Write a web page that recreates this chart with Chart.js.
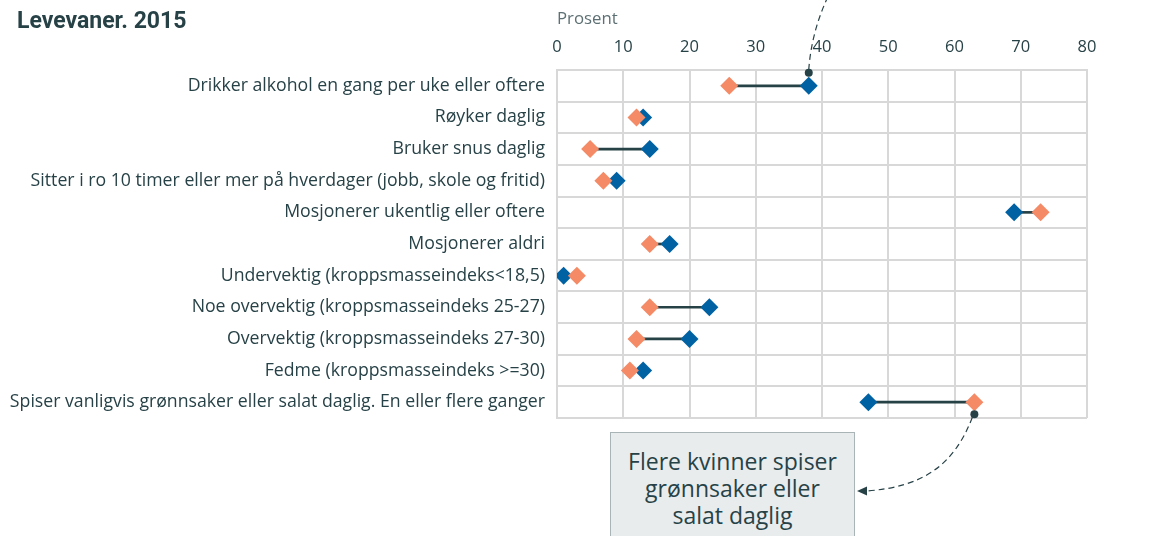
<!DOCTYPE html>
<html lang="no">
<head>
<meta charset="utf-8">
<title>Levevaner. 2015</title>
<script src="https://cdn.jsdelivr.net/npm/chart.js@4.4.1/dist/chart.umd.min.js"></script>
<style>
  html, body { margin: 0; padding: 0; background: #fff; }
  #wrap { position: relative; width: 1161px; height: 536px; overflow: hidden; }
  #chart { position: absolute; left: 0; top: 0; }
  #title {
    position: absolute; left: 17px; top: 7px;
    font: bold 23px Roboto, sans-serif; color: #274247;
    white-space: nowrap;
  }
  #note {
    position: absolute; left: 610px; top: 432px; width: 245px; height: 130px;
    box-sizing: border-box; background: #e9eced; border: 1px solid #a9b4b6;
    font: 23px 'Open Sans', sans-serif; color: #274247;
    text-align: center; line-height: 27px; padding-top: 15px;
  }
</style>
</head>
<body>
<div id="wrap">
  <canvas id="chart" width="1161" height="536"></canvas>
  <div id="title">Levevaner. 2015</div>
  <div id="note">Flere kvinner spiser<br>grønnsaker eller<br>salat daglig</div>
</div>
<script>
// Levevaner etter kjønn, prosent
const categories = [
    'Drikker alkohol en gang per uke eller oftere',
    'Røyker daglig',
    'Bruker snus daglig',
    'Sitter i ro 10 timer eller mer på hverdager (jobb, skole og fritid)',
    'Mosjonerer ukentlig eller oftere',
    'Mosjonerer aldri',
    'Undervektig (kroppsmasseindeks<18,5)',
    'Noe overvektig (kroppsmasseindeks 25-27)',
    'Overvektig (kroppsmasseindeks 27-30)',
    'Fedme (kroppsmasseindeks >=30)',
    'Spiser vanligvis grønnsaker eller salat daglig. En eller flere ganger'
];
const menValues = [38, 13, 14, 9, 69, 17, 1, 23, 20, 13, 47];
const womenValues = [26, 12, 5, 7, 73, 14, 3, 14, 12, 11, 63];
const axisMin = 0;
const axisMax = 80;
const axisStep = 10;

const textColor = '#274247';
const gridColor = '#d8d8d8';
const menColor = '#0062a3';
const womenColor = '#f48a66';

// span between the two values, drawn as a thin floating bar
const spans = menValues.map((m, i) => [Math.min(m, womenValues[i]), Math.max(m, womenValues[i])]);

// dashed callout arrows and anchor dots
const calloutArrows = {
    id: 'calloutArrows',
    afterDatasetsDraw(chart) {
        const { ctx, scales: { x, y } } = chart;
        ctx.save();
        ctx.strokeStyle = textColor;
        ctx.fillStyle = textColor;
        ctx.lineWidth = 1.2;

        // alcohol row, men
        const ax = x.getPixelForValue(menValues[0]);
        const ay = y.getPixelForValue(0) - 13;
        ctx.setLineDash([6, 4]);
        ctx.beginPath();
        ctx.moveTo(ax, ay - 3);
        ctx.quadraticCurveTo(ax + 3, ay - 45, ax + 23, ay - 84);
        ctx.stroke();
        ctx.setLineDash([]);
        ctx.beginPath();
        ctx.arc(ax, ay, 4, 0, Math.PI * 2);
        ctx.fill();

        // vegetables row, women -> note box
        const bx = x.getPixelForValue(womenValues[10]);
        const by = y.getPixelForValue(10) + 12;
        const tipX = 857, tipY = 491;
        ctx.setLineDash([6, 4]);
        ctx.beginPath();
        ctx.moveTo(bx - 2, by + 3);
        ctx.bezierCurveTo(bx - 20, by + 50, bx - 50, tipY - 4, tipX + 9, tipY);
        ctx.stroke();
        ctx.setLineDash([]);
        ctx.beginPath();
        ctx.moveTo(tipX, tipY);
        ctx.lineTo(tipX + 10, tipY - 4.5);
        ctx.lineTo(tipX + 10, tipY + 4.5);
        ctx.closePath();
        ctx.fill();
        ctx.beginPath();
        ctx.arc(bx, by, 4, 0, Math.PI * 2);
        ctx.fill();
        ctx.restore();
    }
};

const ctx = document.getElementById('chart');
new Chart(ctx, {
    type: 'bar',
    data: {
        labels: categories,
        datasets: [
            {
                type: 'bar',
                label: 'Avstand',
                data: spans,
                backgroundColor: textColor,
                barThickness: 2,
                indexAxis: 'y',
                order: 3
            },
            {
                type: 'line',
                label: 'Menn',
                data: menValues,
                showLine: false,
                pointStyle: 'rectRot',
                pointRadius: 9,
                pointBorderWidth: 0,
                backgroundColor: menColor,
                borderColor: menColor,
                indexAxis: 'y',
                order: 2
            },
            {
                type: 'line',
                label: 'Kvinner',
                data: womenValues,
                showLine: false,
                pointStyle: 'rectRot',
                pointRadius: 9,
                pointBorderWidth: 0,
                backgroundColor: womenColor,
                borderColor: womenColor,
                indexAxis: 'y',
                order: 1
            }
        ]
    },
    options: {
        indexAxis: 'y',
        responsive: false,
        animation: false,
        events: [],
        layout: { padding: { left: 0, top: 0, right: 74, bottom: 118 } },
        plugins: {
            legend: { display: false },
            tooltip: { enabled: false }
        },
        scales: {
            x: {
                type: 'linear',
                position: 'top',
                min: axisMin,
                max: axisMax,
                ticks: {
                    stepSize: axisStep,
                    color: textColor,
                    padding: 13,
                    font: { family: 'Open Sans', size: 16.5 }
                },
                grid: { color: gridColor, lineWidth: 2, drawTicks: false },
                border: { color: gridColor, width: 2 },
                title: {
                    display: true,
                    text: 'Prosent',
                    align: 'start',
                    color: '#5d7073',
                    padding: { top: 9, bottom: 0 },
                    font: { family: 'Open Sans', size: 16.8 }
                },
                afterFit(scale) { scale.height = 70; }
            },
            y: {
                type: 'category',
                offset: true,
                ticks: {
                    color: textColor,
                    padding: 12,
                    font: { family: 'Open Sans', size: 17.7 }
                },
                grid: { color: gridColor, lineWidth: 2, offset: true, drawTicks: false },
                border: { color: gridColor, width: 2 },
                afterFit(scale) { scale.width = 557; }
            }
        }
    },
    plugins: [calloutArrows]
});
</script>
</body>
</html>
